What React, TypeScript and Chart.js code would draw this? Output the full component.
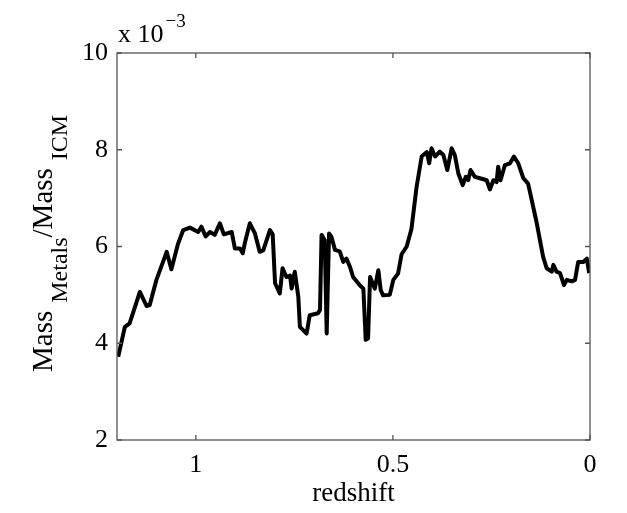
import React, { useEffect, useRef } from "react";
import { Chart, registerables } from "chart.js";

Chart.register(...registerables);

// redshift (x, reversed axis) and metal mass fraction (units of 1e-3)
const redshift = [
  1.197, 1.18, 1.168, 1.142, 1.125, 1.117, 1.1, 1.074, 1.062, 1.045, 1.032, 1.015,
  0.994, 0.986, 0.975, 0.964, 0.952, 0.939, 0.929, 0.909, 0.901, 0.888, 0.881, 0.876,
  0.863, 0.85, 0.838, 0.829, 0.812, 0.805, 0.799, 0.787, 0.78, 0.77, 0.761, 0.757,
  0.749, 0.74, 0.736, 0.719, 0.711, 0.69, 0.685, 0.681, 0.673, 0.668, 0.662, 0.656,
  0.647, 0.635, 0.626, 0.618, 0.609, 0.601, 0.584, 0.575, 0.569, 0.563, 0.558, 0.546,
  0.537, 0.531, 0.525, 0.508, 0.499, 0.487, 0.478, 0.465, 0.453, 0.44, 0.427, 0.419,
  0.414, 0.408, 0.402, 0.393, 0.381, 0.372, 0.362, 0.351, 0.343, 0.334, 0.323, 0.315,
  0.309, 0.303, 0.292, 0.279, 0.262, 0.254, 0.245, 0.237, 0.233, 0.227, 0.216, 0.203,
  0.193, 0.182, 0.169, 0.157, 0.135, 0.119, 0.11, 0.097, 0.093, 0.085, 0.076, 0.066,
  0.059, 0.046, 0.038, 0.03, 0.017, 0.008, 0.002,
];
const metalRatio = [
  3.72, 4.34, 4.41, 5.06, 4.77, 4.79, 5.31, 5.89, 5.53, 6.06, 6.34, 6.39,
  6.3, 6.41, 6.21, 6.3, 6.24, 6.48, 6.25, 6.3, 5.96, 5.96, 5.86, 6.06,
  6.48, 6.27, 5.89, 5.92, 6.34, 6.25, 5.24, 5.03, 5.55, 5.37, 5.4, 5.13,
  5.48, 4.96, 4.34, 4.2, 4.58, 4.62, 4.69, 6.24, 6.13, 4.2, 6.27, 6.2,
  5.93, 5.9, 5.68, 5.75, 5.58, 5.37, 5.2, 5.13, 4.07, 4.1, 5.37, 5.13,
  5.51, 5.1, 4.99, 5.0, 5.31, 5.44, 5.84, 6.0, 6.36, 7.23, 7.86, 7.92,
  7.95, 7.72, 8.03, 7.86, 7.96, 7.89, 7.58, 8.03, 7.89, 7.51, 7.27, 7.44,
  7.37, 7.58, 7.44, 7.41, 7.37, 7.18, 7.37, 7.33, 7.65, 7.37, 7.68, 7.72,
  7.86, 7.72, 7.41, 7.3, 6.48, 5.79, 5.55, 5.48, 5.62, 5.48, 5.45, 5.2,
  5.31, 5.28, 5.31, 5.68, 5.68, 5.75, 5.45,
];
const xTicks = [1, 0.5, 0];
const yTicks = [2, 4, 6, 8, 10];
const xTitle = "redshift";
const yTitleParts = [
  { text: "Mass", sub: false },
  { text: "Metals", sub: true },
  { text: "/Mass", sub: false },
  { text: "ICM", sub: true },
];
const exponentBase = "x 10";
const exponentPower = "\u22123";

const FONT = "'Liberation Serif', 'DejaVu Serif', serif";

const framePlugin = {
  id: "matlabFrame",
  afterDraw(chart: any) {
    const { ctx, chartArea } = chart;
    const { left, right, top, bottom } = chartArea;
    const xs = chart.scales.x;
    const ys = chart.scales.y;
    ctx.save();
    ctx.strokeStyle = "#555";
    ctx.lineWidth = 1.3;
    ctx.strokeRect(left, top, right - left, bottom - top);
    const tl = 5;
    ctx.beginPath();
    xTicks.forEach((v) => {
      const px = xs.getPixelForValue(v);
      ctx.moveTo(px, bottom);
      ctx.lineTo(px, bottom - tl);
      ctx.moveTo(px, top);
      ctx.lineTo(px, top + tl);
    });
    yTicks.forEach((v) => {
      const py = ys.getPixelForValue(v);
      ctx.moveTo(left, py);
      ctx.lineTo(left + tl, py);
      ctx.moveTo(right, py);
      ctx.lineTo(right - tl, py);
    });
    ctx.stroke();

    ctx.fillStyle = "#000";
    // x title
    ctx.font = `27px ${FONT}`;
    ctx.textAlign = "center";
    ctx.textBaseline = "alphabetic";
    ctx.fillText(xTitle, (left + right) / 2, 501);

    // exponent
    ctx.textAlign = "left";
    ctx.font = `26px ${FONT}`;
    ctx.fillText(exponentBase, left + 1, top - 11);
    const bw = ctx.measureText(exponentBase).width;
    ctx.font = `19px ${FONT}`;
    ctx.fillText(exponentPower, left + 1 + bw + 2, top - 26);

    // y title rotated
    ctx.translate(52, 372);
    ctx.rotate(-Math.PI / 2);
    let pos = 0;
    let prevSub: boolean | null = null;
    yTitleParts.forEach((p) => {
      if (prevSub === false && p.sub) pos += 8;
      ctx.font = p.sub ? `24px ${FONT}` : `29px ${FONT}`;
      ctx.fillText(p.text, pos, p.sub ? 15 : 0);
      pos += ctx.measureText(p.text).width;
      prevSub = p.sub;
    });
    ctx.restore();
  },
};

export default function App() {
  const ref = useRef<HTMLCanvasElement | null>(null);
  useEffect(() => {
    if (!ref.current) return;
    const chart = new Chart(ref.current, {
      type: "line",
      data: {
        datasets: [
          {
            data: redshift.map((z, i) => ({ x: z, y: metalRatio[i] })),
            borderColor: "#000",
            borderWidth: 4,
            pointRadius: 0,
            tension: 0,
            fill: false,
            borderJoinStyle: "round",
          } as any,
        ],
      },
      options: {
        responsive: false,
        animation: false,
        layout: { padding: { top: 53, right: 37, left: 0, bottom: 0 } },
        plugins: { legend: { display: false }, tooltip: { enabled: false } },
        scales: {
          x: {
            type: "linear",
            reverse: true,
            min: 0,
            max: 1.2,
            grid: { display: false, drawTicks: false },
            border: { display: false },
            afterBuildTicks: (s: any) => {
              s.ticks = xTicks.map((v) => ({ value: v }));
            },
            afterFit: (s: any) => {
              s.height = 73;
            },
            ticks: {
              color: "#000",
              font: { family: FONT, size: 26 },
              padding: 10,
              maxRotation: 0,
              autoSkip: false,
              callback: (v: any) => String(v),
            },
          },
          y: {
            type: "linear",
            min: 2,
            max: 10,
            grid: { display: false, drawTicks: false },
            border: { display: false },
            afterBuildTicks: (s: any) => {
              s.ticks = yTicks.map((v) => ({ value: v }));
            },
            afterFit: (s: any) => {
              s.width = 117;
            },
            ticks: {
              color: "#000",
              font: { family: FONT, size: 26 },
              padding: 9,
              callback: (v: any) => String(v),
            },
          },
        },
      },
      plugins: [framePlugin],
    });
    return () => chart.destroy();
  }, []);
  return (
    <div style={{ position: "absolute", left: 0, top: 0, width: 627, height: 513, background: "#fff" }}>
      <canvas ref={ref} width={627} height={513} />
    </div>
  );
}
